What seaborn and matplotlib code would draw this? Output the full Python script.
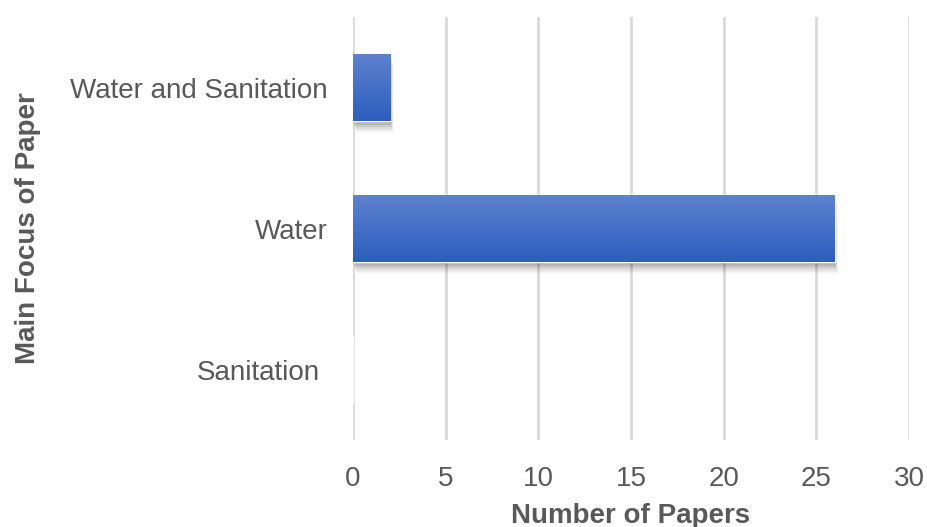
import numpy as np
import pandas as pd
import matplotlib
matplotlib.use("Agg")
import matplotlib.pyplot as plt
import seaborn as sns
from matplotlib.patches import Rectangle
import matplotlib.colors as mcolors
import matplotlib.transforms as mtransforms

categories = ["Water and Sanitation", "Water", "Sanitation"]
papers = [2, 26, 0]
x_ticks = [0, 5, 10, 15, 20, 25, 30]

sns.set_theme(style="white")
plt.rcParams['font.family'] = ['Liberation Sans', 'DejaVu Sans']

df = pd.DataFrame({"Focus": categories, "Papers": papers})

fig = plt.figure(figsize=(9.27, 5.27), dpi=100)
ax = fig.add_axes([353/927, 1 - 440/527, (909-353)/927, (440-17)/527])

sns.barplot(data=df, x="Papers", y="Focus", orient="h", ax=ax,
            color="#3a67c4", width=0.475, zorder=3)

ax.set_xlim(0, 30)
ax.set_ylim(2.5, -0.5)
ax.set_xticks(x_ticks)
ax.grid(axis="x", color="#d9d9d9", linewidth=2, zorder=0)
for s in ax.spines.values():
    s.set_visible(False)
ax.tick_params(axis="both", length=0, labelsize=20, colors="#595959")
ax.tick_params(axis="x", pad=18.5)
ax.tick_params(axis="y", pad=18)
ax.set_xlabel("Number of Papers", fontsize=20, fontweight="bold", color="#595959", labelpad=8)
ax.set_ylabel("Main Focus of Paper", fontsize=20, fontweight="bold", color="#595959", labelpad=21)

# gradient + shadow
cmap = mcolors.LinearSegmentedColormap.from_list("g", ["#5d82cf", "#2d5dbd"])
grad = np.linspace(0, 1, 256).reshape(-1, 1)
for p in list(ax.patches):
    x0, y0 = p.get_x(), p.get_y()
    w, h = p.get_width(), p.get_height()
    if w <= 0:
        continue
    for i, a in enumerate([0.10, 0.08, 0.06, 0.05, 0.03]):
        sh = Rectangle((x0 + 0.05 + i*0.03, y0 + 0.03 + i*0.014), w, h,
                       facecolor="black", alpha=a, edgecolor="none", zorder=2)
        ax.add_patch(sh)
    im = ax.imshow(grad, cmap=cmap, aspect="auto",
                   extent=[x0, x0 + w, y0 + h, y0], zorder=4)
    im.set_clip_path(p)
    p.set_zorder(3)

ax.set_xlim(0, 30)
ax.set_ylim(2.5, -0.5)

# Sanitation label sits slightly further left in the reference
for lab in ax.get_yticklabels():
    if lab.get_text() == "Sanitation":
        lab.set_transform(lab.get_transform() +
                          mtransforms.ScaledTranslation(-8/100, 0, fig.dpi_scale_trans))

fig.savefig("out.png", dpi=100)
